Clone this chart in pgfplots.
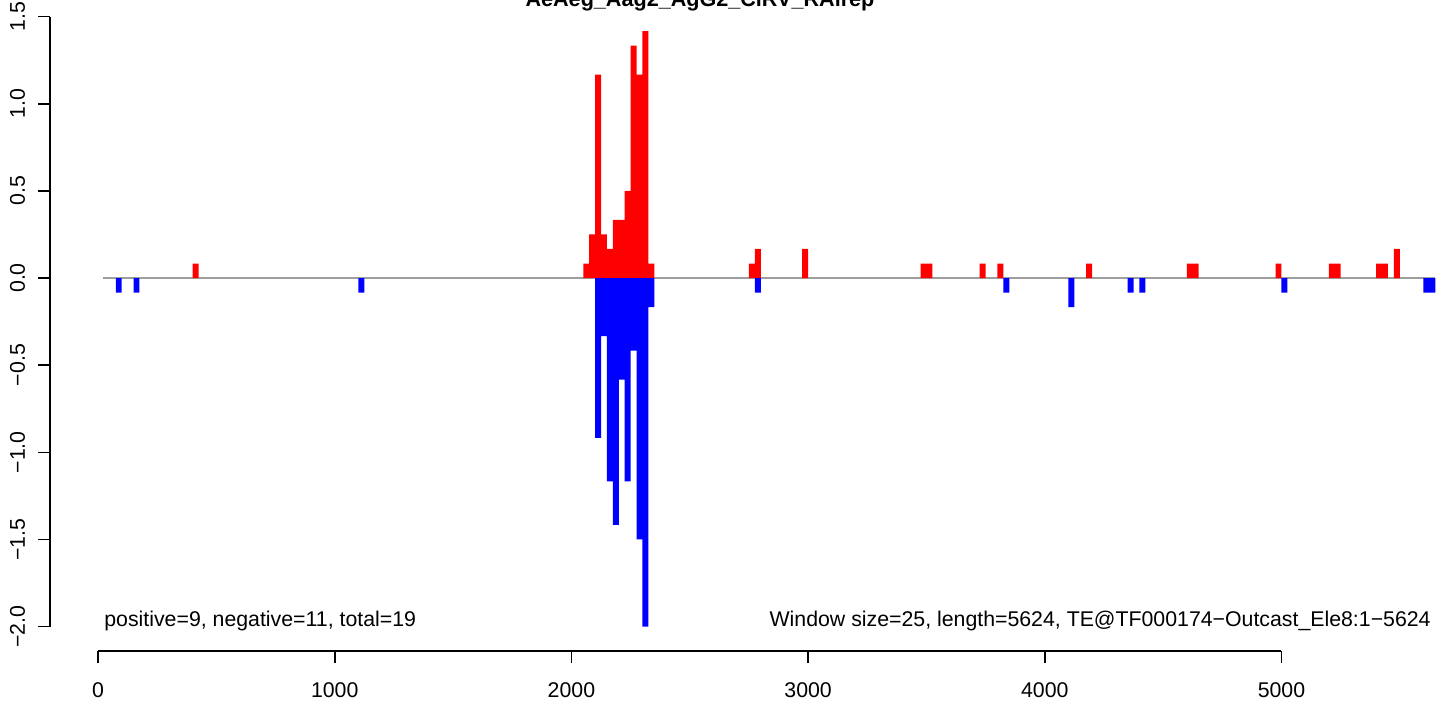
\documentclass[border=0pt]{standalone}
\usepackage{pgfplots}
\pgfplotsset{compat=1.18}
\usepackage{fontspec}
\setmainfont{Liberation Sans}
\definecolor{zeroline}{gray}{0.62}
\begin{document}
\begin{tikzpicture}[x=1pt,y=1pt,font=\fontsize{10.65pt}{12.5pt}\selectfont]
\begin{axis}[
  at={(25pt,25.5pt)}, anchor=south west,
  scale only axis, width=695.5pt, height=329.4pt,
  xmin=-203, xmax=5674, ymin=-2.14, ymax=1.64,
  axis lines*=left, axis line style={draw=none},
  clip=false,
  xtick={0,1000,2000,3000,4000,5000},
  xticklabels={0,1000,2000,3000,4000,5000},
  ytick={-2,-1.5,-1,-0.5,0,0.5,1,1.5},
  yticklabels={−2.0,−1.5,−1.0,−0.5,0.0,0.5,1.0,1.5},
  tick align=outside, major tick length=6pt,
  tick style={black, line width=0.8pt},
  minor tick num=0,
  xticklabel style={anchor=base, inner sep=0pt, yshift=-17pt},
  yticklabel style={xshift=-6.5pt, rotate=90, anchor=base, inner sep=0pt},
]
\addplot[zeroline, line width=0.75pt] coordinates {(21,0) (5650,0)};
\addplot[ybar, bar width=25, bar shift=0pt, fill=red, draw=none] coordinates {
(412.5,0.0833)
(2062.5,0.0833)(2087.5,0.25)(2112.5,1.1667)(2137.5,0.25)(2162.5,0.1667)(2187.5,0.3333)(2212.5,0.3333)(2237.5,0.5)(2262.5,1.3333)(2287.5,1.1667)(2312.5,1.4167)(2337.5,0.0833)
(2762.5,0.0833)(2787.5,0.1667)(2987.5,0.1667)(3487.5,0.0833)(3512.5,0.0833)(3737.5,0.0833)(3812.5,0.0833)(4187.5,0.0833)(4612.5,0.0833)(4637.5,0.0833)(4987.5,0.0833)(5212.5,0.0833)(5237.5,0.0833)(5412.5,0.0833)(5437.5,0.0833)(5487.5,0.1667)
};
\addplot[ybar, bar width=25, bar shift=0pt, fill=blue, draw=none] coordinates {
(87.5,-0.0833)(162.5,-0.0833)(1112.5,-0.0833)
(2112.5,-0.9167)(2137.5,-0.3333)(2162.5,-1.1667)(2187.5,-1.4167)(2212.5,-0.5833)(2237.5,-1.1667)(2262.5,-0.4167)(2287.5,-1.5)(2312.5,-2.0)(2337.5,-0.1667)
(2787.5,-0.0833)(3837.5,-0.0833)(4112.5,-0.1667)(4362.5,-0.0833)(4412.5,-0.0833)(5012.5,-0.0833)(5612.5,-0.0833)(5637.5,-0.0833)
};
\draw[black, line width=0.8pt] (axis cs:0,-2.14) -- (axis cs:5000,-2.14);
\draw[black, line width=0.8pt] (axis cs:-203,-2) -- (axis cs:-203,1.5);
\node[anchor=base west, inner sep=0pt] at (axis cs:25,-2.0) {positive=9, negative=11, total=19};
\node[anchor=base east, inner sep=0pt] at (axis cs:5632,-2.0) {Window size=25, length=5624, TE@TF000174−Outcast\_Ele8:1−5624};
\end{axis}
\node[anchor=base, inner sep=0pt, font=\bfseries\fontsize{10.8pt}{12.5pt}\selectfont] at (350pt,347.6pt) {AeAeg\_Aag2\_AgG2\_CiRV\_RAlrep};
\pgfresetboundingbox
\path (0,0) rectangle (720.5pt,351pt);
\end{tikzpicture}
\end{document}
